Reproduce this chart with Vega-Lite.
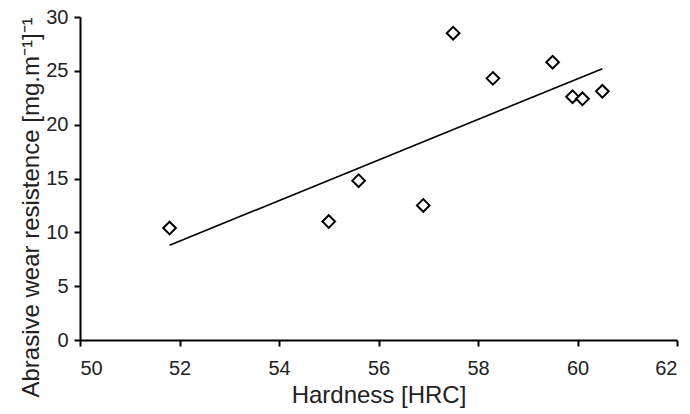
{
  "$schema": "https://vega.github.io/schema/vega-lite/v6.json",
  "autosize": {"type": "none"},
  "width": 597,
  "height": 323,
  "padding": {"left": 80, "top": 17, "right": 13, "bottom": 74},
  "background": "white",
  "config": {
    "view": {"stroke": null},
    "font": "Liberation Sans",
    "axis": {
      "grid": false,
      "domainColor": "black",
      "domainWidth": 2,
      "tickColor": "black",
      "tickWidth": 2,
      "tickSize": 6,
      "labelColor": "#222",
      "labelFontSize": 20,
      "labelFont": "Liberation Sans",
      "titleFont": "Liberation Sans",
      "titleFontWeight": "normal",
      "titleColor": "#222",
      "titleFontSize": 24
    }
  },
  "datasets": {
    "pts": [
      {"hardness": 51.8, "wear": 10.4},
      {"hardness": 55.0, "wear": 11.0},
      {"hardness": 55.6, "wear": 14.8},
      {"hardness": 56.9, "wear": 12.5},
      {"hardness": 57.5, "wear": 28.5},
      {"hardness": 58.3, "wear": 24.3},
      {"hardness": 59.5, "wear": 25.8},
      {"hardness": 59.9, "wear": 22.6},
      {"hardness": 60.1, "wear": 22.4},
      {"hardness": 60.5, "wear": 23.1}
    ],
    "trend": [
      {"hardness": 51.8, "wear": 8.8},
      {"hardness": 60.5, "wear": 25.2}
    ]
  },
  "layer": [
    {
      "data": {"name": "trend"},
      "mark": {"type": "line", "color": "black", "strokeWidth": 1.6},
      "encoding": {
        "x": {"field": "hardness", "type": "quantitative"},
        "y": {"field": "wear", "type": "quantitative"}
      }
    },
    {
      "data": {"name": "pts"},
      "mark": {"type": "point", "shape": "diamond", "size": 160, "filled": false, "stroke": "black", "strokeWidth": 2, "fill": "white", "fillOpacity": 1, "opacity": 1},
      "encoding": {
        "x": {
          "field": "hardness", "type": "quantitative",
          "scale": {"domain": [50, 62], "nice": false, "zero": false},
          "axis": {"values": [50, 52, 54, 56, 58, 60, 62], "title": "Hardness [HRC]", "labelPadding": 12, "titlePadding": 5}
        },
        "y": {
          "field": "wear", "type": "quantitative",
          "scale": {"domain": [0, 30], "nice": false},
          "axis": {"values": [0, 5, 10, 15, 20, 25, 30], "labelPadding": 6, "title": "Abrasive wear resistence [mg.m⁻¹]⁻¹", "titleY": 190, "titleX": -42, "titleAlign": "center", "titleBaseline": "alphabetic", "titleAngle": -90}
        }
      }
    }
  ]
}
